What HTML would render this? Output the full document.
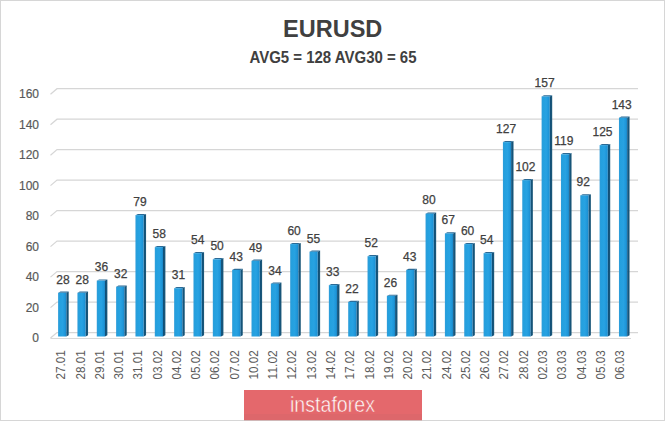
<!DOCTYPE html><html><head><meta charset="utf-8"><style>
html,body{margin:0;padding:0;background:#fff;}
#c{position:relative;width:665px;height:421px;overflow:hidden;background:#fff;}
svg{position:absolute;left:0;top:0;}
text{font-family:"Liberation Sans",sans-serif;}
</style></head><body><div id="c">
<svg width="665" height="421" viewBox="0 0 665 421">
<defs>
<linearGradient id="gf" x1="0" x2="1" y1="0" y2="0"><stop offset="0" stop-color="#2f9cd9"/><stop offset="0.2" stop-color="#24a0de"/><stop offset="0.55" stop-color="#28a2e2"/><stop offset="0.85" stop-color="#1e96d9"/><stop offset="1" stop-color="#1a84c2"/></linearGradient>
<linearGradient id="gs" x1="0" x2="1" y1="0" y2="0"><stop offset="0" stop-color="#0d4d78"/><stop offset="1" stop-color="#1e5a7a"/></linearGradient>
</defs>
<rect x="0.5" y="0.5" width="664" height="420" fill="#fff" stroke="#d6d6d6" stroke-width="1"/>
<path d="M50.5 338.0 L57 332.54 L638 332.54" fill="none" stroke="#d6d6d6" stroke-width="1.2"/>
<text x="39" y="342.0" font-size="12" fill="#595959" stroke="#595959" stroke-width="0.2" text-anchor="end">0</text>
<path d="M50.5 307.6 L57 302.06 L638 302.06" fill="none" stroke="#d6d6d6" stroke-width="1.2"/>
<text x="39" y="311.6" font-size="12" fill="#595959" stroke="#595959" stroke-width="0.2" text-anchor="end">20</text>
<path d="M50.5 277.1 L57 271.58 L638 271.58" fill="none" stroke="#d6d6d6" stroke-width="1.2"/>
<text x="39" y="281.1" font-size="12" fill="#595959" stroke="#595959" stroke-width="0.2" text-anchor="end">40</text>
<path d="M50.5 246.6 L57 241.10000000000002 L638 241.10000000000002" fill="none" stroke="#d6d6d6" stroke-width="1.2"/>
<text x="39" y="250.6" font-size="12" fill="#595959" stroke="#595959" stroke-width="0.2" text-anchor="end">60</text>
<path d="M50.5 216.1 L57 210.62 L638 210.62" fill="none" stroke="#d6d6d6" stroke-width="1.2"/>
<text x="39" y="220.1" font-size="12" fill="#595959" stroke="#595959" stroke-width="0.2" text-anchor="end">80</text>
<path d="M50.5 185.6 L57 180.14 L638 180.14" fill="none" stroke="#d6d6d6" stroke-width="1.2"/>
<text x="39" y="189.6" font-size="12" fill="#595959" stroke="#595959" stroke-width="0.2" text-anchor="end">100</text>
<path d="M50.5 155.2 L57 149.66 L638 149.66" fill="none" stroke="#d6d6d6" stroke-width="1.2"/>
<text x="39" y="159.2" font-size="12" fill="#595959" stroke="#595959" stroke-width="0.2" text-anchor="end">120</text>
<path d="M50.5 124.7 L57 119.18 L638 119.18" fill="none" stroke="#d6d6d6" stroke-width="1.2"/>
<text x="39" y="128.7" font-size="12" fill="#595959" stroke="#595959" stroke-width="0.2" text-anchor="end">140</text>
<path d="M50.5 94.2 L57 88.7 L638 88.7" fill="none" stroke="#d6d6d6" stroke-width="1.2"/>
<text x="39" y="98.2" font-size="12" fill="#595959" stroke="#595959" stroke-width="0.2" text-anchor="end">160</text>
<path d="M50.5 338.5 L631 338.5" fill="none" stroke="#d9d9d9" stroke-width="1"/>
<polygon points="66.30,292.78 68.70,291.58 68.70,335.30 66.30,336.50" fill="url(#gs)"/>
<polygon points="58.10,292.78 60.50,291.58 68.70,291.58 66.30,292.78" fill="#2a6a96"/>
<rect x="58.10" y="292.78" width="8.20" height="43.72" fill="url(#gf)"/>
<text x="62.9" y="283.6" font-size="12" fill="#404040" stroke="#404040" stroke-width="0.25" text-anchor="middle">28</text>
<text transform="translate(65.2,350.2) rotate(-90)" font-size="12" fill="#5a5a5a" text-anchor="end" textLength="29.2" lengthAdjust="spacingAndGlyphs">27.01</text>
<polygon points="85.64,292.78 88.04,291.58 88.04,335.30 85.64,336.50" fill="url(#gs)"/>
<polygon points="77.44,292.78 79.84,291.58 88.04,291.58 85.64,292.78" fill="#2a6a96"/>
<rect x="77.44" y="292.78" width="8.20" height="43.72" fill="url(#gf)"/>
<text x="82.2" y="283.6" font-size="12" fill="#404040" stroke="#404040" stroke-width="0.25" text-anchor="middle">28</text>
<text transform="translate(84.5,350.2) rotate(-90)" font-size="12" fill="#5a5a5a" text-anchor="end" textLength="29.2" lengthAdjust="spacingAndGlyphs">28.01</text>
<polygon points="104.98,280.61 107.38,279.41 107.38,335.30 104.98,336.50" fill="url(#gs)"/>
<polygon points="96.78,280.61 99.18,279.41 107.38,279.41 104.98,280.61" fill="#2a6a96"/>
<rect x="96.78" y="280.61" width="8.20" height="55.89" fill="url(#gf)"/>
<text x="101.4" y="271.4" font-size="12" fill="#404040" stroke="#404040" stroke-width="0.25" text-anchor="middle">36</text>
<text transform="translate(103.7,350.2) rotate(-90)" font-size="12" fill="#5a5a5a" text-anchor="end" textLength="29.2" lengthAdjust="spacingAndGlyphs">29.01</text>
<polygon points="124.32,286.70 126.72,285.50 126.72,335.30 124.32,336.50" fill="url(#gs)"/>
<polygon points="116.12,286.70 118.52,285.50 126.72,285.50 124.32,286.70" fill="#2a6a96"/>
<rect x="116.12" y="286.70" width="8.20" height="49.80" fill="url(#gf)"/>
<text x="120.7" y="277.5" font-size="12" fill="#404040" stroke="#404040" stroke-width="0.25" text-anchor="middle">32</text>
<text transform="translate(123.0,350.2) rotate(-90)" font-size="12" fill="#5a5a5a" text-anchor="end" textLength="29.2" lengthAdjust="spacingAndGlyphs">30.01</text>
<polygon points="143.66,215.16 146.06,213.96 146.06,335.30 143.66,336.50" fill="url(#gs)"/>
<polygon points="135.46,215.16 137.86,213.96 146.06,213.96 143.66,215.16" fill="#2a6a96"/>
<rect x="135.46" y="215.16" width="8.20" height="121.34" fill="url(#gf)"/>
<text x="140.0" y="206.0" font-size="12" fill="#404040" stroke="#404040" stroke-width="0.25" text-anchor="middle">79</text>
<text transform="translate(142.3,350.2) rotate(-90)" font-size="12" fill="#5a5a5a" text-anchor="end" textLength="29.2" lengthAdjust="spacingAndGlyphs">31.01</text>
<polygon points="163.00,247.12 165.40,245.92 165.40,335.30 163.00,336.50" fill="url(#gs)"/>
<polygon points="154.80,247.12 157.20,245.92 165.40,245.92 163.00,247.12" fill="#2a6a96"/>
<rect x="154.80" y="247.12" width="8.20" height="89.38" fill="url(#gf)"/>
<text x="159.2" y="237.9" font-size="12" fill="#404040" stroke="#404040" stroke-width="0.25" text-anchor="middle">58</text>
<text transform="translate(161.6,350.2) rotate(-90)" font-size="12" fill="#5a5a5a" text-anchor="end" textLength="29.2" lengthAdjust="spacingAndGlyphs">03.02</text>
<polygon points="182.34,288.22 184.74,287.02 184.74,335.30 182.34,336.50" fill="url(#gs)"/>
<polygon points="174.14,288.22 176.54,287.02 184.74,287.02 182.34,288.22" fill="#2a6a96"/>
<rect x="174.14" y="288.22" width="8.20" height="48.28" fill="url(#gf)"/>
<text x="178.5" y="279.0" font-size="12" fill="#404040" stroke="#404040" stroke-width="0.25" text-anchor="middle">31</text>
<text transform="translate(180.8,350.2) rotate(-90)" font-size="12" fill="#5a5a5a" text-anchor="end" textLength="29.2" lengthAdjust="spacingAndGlyphs">04.02</text>
<polygon points="201.68,253.21 204.08,252.01 204.08,335.30 201.68,336.50" fill="url(#gs)"/>
<polygon points="193.48,253.21 195.88,252.01 204.08,252.01 201.68,253.21" fill="#2a6a96"/>
<rect x="193.48" y="253.21" width="8.20" height="83.29" fill="url(#gf)"/>
<text x="197.8" y="244.0" font-size="12" fill="#404040" stroke="#404040" stroke-width="0.25" text-anchor="middle">54</text>
<text transform="translate(200.1,350.2) rotate(-90)" font-size="12" fill="#5a5a5a" text-anchor="end" textLength="29.2" lengthAdjust="spacingAndGlyphs">05.02</text>
<polygon points="221.02,259.30 223.42,258.10 223.42,335.30 221.02,336.50" fill="url(#gs)"/>
<polygon points="212.82,259.30 215.22,258.10 223.42,258.10 221.02,259.30" fill="#2a6a96"/>
<rect x="212.82" y="259.30" width="8.20" height="77.20" fill="url(#gf)"/>
<text x="217.1" y="250.1" font-size="12" fill="#404040" stroke="#404040" stroke-width="0.25" text-anchor="middle">50</text>
<text transform="translate(219.4,350.2) rotate(-90)" font-size="12" fill="#5a5a5a" text-anchor="end" textLength="29.2" lengthAdjust="spacingAndGlyphs">06.02</text>
<polygon points="240.36,269.95 242.76,268.75 242.76,335.30 240.36,336.50" fill="url(#gs)"/>
<polygon points="232.16,269.95 234.56,268.75 242.76,268.75 240.36,269.95" fill="#2a6a96"/>
<rect x="232.16" y="269.95" width="8.20" height="66.55" fill="url(#gf)"/>
<text x="236.3" y="260.8" font-size="12" fill="#404040" stroke="#404040" stroke-width="0.25" text-anchor="middle">43</text>
<text transform="translate(238.6,350.2) rotate(-90)" font-size="12" fill="#5a5a5a" text-anchor="end" textLength="29.2" lengthAdjust="spacingAndGlyphs">07.02</text>
<polygon points="259.70,260.82 262.10,259.62 262.10,335.30 259.70,336.50" fill="url(#gs)"/>
<polygon points="251.50,260.82 253.90,259.62 262.10,259.62 259.70,260.82" fill="#2a6a96"/>
<rect x="251.50" y="260.82" width="8.20" height="75.68" fill="url(#gf)"/>
<text x="255.6" y="251.6" font-size="12" fill="#404040" stroke="#404040" stroke-width="0.25" text-anchor="middle">49</text>
<text transform="translate(257.9,350.2) rotate(-90)" font-size="12" fill="#5a5a5a" text-anchor="end" textLength="29.2" lengthAdjust="spacingAndGlyphs">10.02</text>
<polygon points="279.04,283.65 281.44,282.45 281.44,335.30 279.04,336.50" fill="url(#gs)"/>
<polygon points="270.84,283.65 273.24,282.45 281.44,282.45 279.04,283.65" fill="#2a6a96"/>
<rect x="270.84" y="283.65" width="8.20" height="52.85" fill="url(#gf)"/>
<text x="274.9" y="274.5" font-size="12" fill="#404040" stroke="#404040" stroke-width="0.25" text-anchor="middle">34</text>
<text transform="translate(277.2,350.2) rotate(-90)" font-size="12" fill="#5a5a5a" text-anchor="end" textLength="29.2" lengthAdjust="spacingAndGlyphs">11.02</text>
<polygon points="298.38,244.08 300.78,242.88 300.78,335.30 298.38,336.50" fill="url(#gs)"/>
<polygon points="290.18,244.08 292.58,242.88 300.78,242.88 298.38,244.08" fill="#2a6a96"/>
<rect x="290.18" y="244.08" width="8.20" height="92.42" fill="url(#gf)"/>
<text x="294.1" y="234.9" font-size="12" fill="#404040" stroke="#404040" stroke-width="0.25" text-anchor="middle">60</text>
<text transform="translate(296.4,350.2) rotate(-90)" font-size="12" fill="#5a5a5a" text-anchor="end" textLength="29.2" lengthAdjust="spacingAndGlyphs">12.02</text>
<polygon points="317.72,251.69 320.12,250.49 320.12,335.30 317.72,336.50" fill="url(#gs)"/>
<polygon points="309.52,251.69 311.92,250.49 320.12,250.49 317.72,251.69" fill="#2a6a96"/>
<rect x="309.52" y="251.69" width="8.20" height="84.81" fill="url(#gf)"/>
<text x="313.4" y="242.5" font-size="12" fill="#404040" stroke="#404040" stroke-width="0.25" text-anchor="middle">55</text>
<text transform="translate(315.7,350.2) rotate(-90)" font-size="12" fill="#5a5a5a" text-anchor="end" textLength="29.2" lengthAdjust="spacingAndGlyphs">13.02</text>
<polygon points="337.06,285.17 339.46,283.97 339.46,335.30 337.06,336.50" fill="url(#gs)"/>
<polygon points="328.86,285.17 331.26,283.97 339.46,283.97 337.06,285.17" fill="#2a6a96"/>
<rect x="328.86" y="285.17" width="8.20" height="51.33" fill="url(#gf)"/>
<text x="332.7" y="276.0" font-size="12" fill="#404040" stroke="#404040" stroke-width="0.25" text-anchor="middle">33</text>
<text transform="translate(335.0,350.2) rotate(-90)" font-size="12" fill="#5a5a5a" text-anchor="end" textLength="29.2" lengthAdjust="spacingAndGlyphs">14.02</text>
<polygon points="356.40,301.92 358.80,300.72 358.80,335.30 356.40,336.50" fill="url(#gs)"/>
<polygon points="348.20,301.92 350.60,300.72 358.80,300.72 356.40,301.92" fill="#2a6a96"/>
<rect x="348.20" y="301.92" width="8.20" height="34.58" fill="url(#gf)"/>
<text x="351.9" y="292.7" font-size="12" fill="#404040" stroke="#404040" stroke-width="0.25" text-anchor="middle">22</text>
<text transform="translate(354.2,350.2) rotate(-90)" font-size="12" fill="#5a5a5a" text-anchor="end" textLength="29.2" lengthAdjust="spacingAndGlyphs">17.02</text>
<polygon points="375.74,256.26 378.14,255.06 378.14,335.30 375.74,336.50" fill="url(#gs)"/>
<polygon points="367.54,256.26 369.94,255.06 378.14,255.06 375.74,256.26" fill="#2a6a96"/>
<rect x="367.54" y="256.26" width="8.20" height="80.24" fill="url(#gf)"/>
<text x="371.2" y="247.1" font-size="12" fill="#404040" stroke="#404040" stroke-width="0.25" text-anchor="middle">52</text>
<text transform="translate(373.5,350.2) rotate(-90)" font-size="12" fill="#5a5a5a" text-anchor="end" textLength="29.2" lengthAdjust="spacingAndGlyphs">18.02</text>
<polygon points="395.08,295.83 397.48,294.63 397.48,335.30 395.08,336.50" fill="url(#gs)"/>
<polygon points="386.88,295.83 389.28,294.63 397.48,294.63 395.08,295.83" fill="#2a6a96"/>
<rect x="386.88" y="295.83" width="8.20" height="40.67" fill="url(#gf)"/>
<text x="390.5" y="286.6" font-size="12" fill="#404040" stroke="#404040" stroke-width="0.25" text-anchor="middle">26</text>
<text transform="translate(392.8,350.2) rotate(-90)" font-size="12" fill="#5a5a5a" text-anchor="end" textLength="29.2" lengthAdjust="spacingAndGlyphs">19.02</text>
<polygon points="414.42,269.95 416.82,268.75 416.82,335.30 414.42,336.50" fill="url(#gs)"/>
<polygon points="406.22,269.95 408.62,268.75 416.82,268.75 414.42,269.95" fill="#2a6a96"/>
<rect x="406.22" y="269.95" width="8.20" height="66.55" fill="url(#gf)"/>
<text x="409.8" y="260.8" font-size="12" fill="#404040" stroke="#404040" stroke-width="0.25" text-anchor="middle">43</text>
<text transform="translate(412.1,350.2) rotate(-90)" font-size="12" fill="#5a5a5a" text-anchor="end" textLength="29.2" lengthAdjust="spacingAndGlyphs">20.02</text>
<polygon points="433.76,213.64 436.16,212.44 436.16,335.30 433.76,336.50" fill="url(#gs)"/>
<polygon points="425.56,213.64 427.96,212.44 436.16,212.44 433.76,213.64" fill="#2a6a96"/>
<rect x="425.56" y="213.64" width="8.20" height="122.86" fill="url(#gf)"/>
<text x="429.0" y="204.4" font-size="12" fill="#404040" stroke="#404040" stroke-width="0.25" text-anchor="middle">80</text>
<text transform="translate(431.3,350.2) rotate(-90)" font-size="12" fill="#5a5a5a" text-anchor="end" textLength="29.2" lengthAdjust="spacingAndGlyphs">21.02</text>
<polygon points="453.10,233.43 455.50,232.23 455.50,335.30 453.10,336.50" fill="url(#gs)"/>
<polygon points="444.90,233.43 447.30,232.23 455.50,232.23 453.10,233.43" fill="#2a6a96"/>
<rect x="444.90" y="233.43" width="8.20" height="103.07" fill="url(#gf)"/>
<text x="448.3" y="224.2" font-size="12" fill="#404040" stroke="#404040" stroke-width="0.25" text-anchor="middle">67</text>
<text transform="translate(450.6,350.2) rotate(-90)" font-size="12" fill="#5a5a5a" text-anchor="end" textLength="29.2" lengthAdjust="spacingAndGlyphs">24.02</text>
<polygon points="472.44,244.08 474.84,242.88 474.84,335.30 472.44,336.50" fill="url(#gs)"/>
<polygon points="464.24,244.08 466.64,242.88 474.84,242.88 472.44,244.08" fill="#2a6a96"/>
<rect x="464.24" y="244.08" width="8.20" height="92.42" fill="url(#gf)"/>
<text x="467.6" y="234.9" font-size="12" fill="#404040" stroke="#404040" stroke-width="0.25" text-anchor="middle">60</text>
<text transform="translate(469.9,350.2) rotate(-90)" font-size="12" fill="#5a5a5a" text-anchor="end" textLength="29.2" lengthAdjust="spacingAndGlyphs">25.02</text>
<polygon points="491.78,253.21 494.18,252.01 494.18,335.30 491.78,336.50" fill="url(#gs)"/>
<polygon points="483.58,253.21 485.98,252.01 494.18,252.01 491.78,253.21" fill="#2a6a96"/>
<rect x="483.58" y="253.21" width="8.20" height="83.29" fill="url(#gf)"/>
<text x="486.8" y="244.0" font-size="12" fill="#404040" stroke="#404040" stroke-width="0.25" text-anchor="middle">54</text>
<text transform="translate(489.1,350.2) rotate(-90)" font-size="12" fill="#5a5a5a" text-anchor="end" textLength="29.2" lengthAdjust="spacingAndGlyphs">26.02</text>
<polygon points="511.12,142.11 513.52,140.91 513.52,335.30 511.12,336.50" fill="url(#gs)"/>
<polygon points="502.92,142.11 505.32,140.91 513.52,140.91 511.12,142.11" fill="#2a6a96"/>
<rect x="502.92" y="142.11" width="8.20" height="194.39" fill="url(#gf)"/>
<text x="506.1" y="132.9" font-size="12" fill="#404040" stroke="#404040" stroke-width="0.25" text-anchor="middle">127</text>
<text transform="translate(508.4,350.2) rotate(-90)" font-size="12" fill="#5a5a5a" text-anchor="end" textLength="29.2" lengthAdjust="spacingAndGlyphs">27.02</text>
<polygon points="530.46,180.16 532.86,178.96 532.86,335.30 530.46,336.50" fill="url(#gs)"/>
<polygon points="522.26,180.16 524.66,178.96 532.86,178.96 530.46,180.16" fill="#2a6a96"/>
<rect x="522.26" y="180.16" width="8.20" height="156.34" fill="url(#gf)"/>
<text x="525.4" y="171.0" font-size="12" fill="#404040" stroke="#404040" stroke-width="0.25" text-anchor="middle">102</text>
<text transform="translate(527.7,350.2) rotate(-90)" font-size="12" fill="#5a5a5a" text-anchor="end" textLength="29.2" lengthAdjust="spacingAndGlyphs">28.02</text>
<polygon points="549.80,96.45 552.20,95.25 552.20,335.30 549.80,336.50" fill="url(#gs)"/>
<polygon points="541.60,96.45 544.00,95.25 552.20,95.25 549.80,96.45" fill="#2a6a96"/>
<rect x="541.60" y="96.45" width="8.20" height="240.05" fill="url(#gf)"/>
<text x="544.6" y="87.2" font-size="12" fill="#404040" stroke="#404040" stroke-width="0.25" text-anchor="middle">157</text>
<text transform="translate(547.0,350.2) rotate(-90)" font-size="12" fill="#5a5a5a" text-anchor="end" textLength="29.2" lengthAdjust="spacingAndGlyphs">02.03</text>
<polygon points="569.14,154.28 571.54,153.08 571.54,335.30 569.14,336.50" fill="url(#gs)"/>
<polygon points="560.94,154.28 563.34,153.08 571.54,153.08 569.14,154.28" fill="#2a6a96"/>
<rect x="560.94" y="154.28" width="8.20" height="182.22" fill="url(#gf)"/>
<text x="563.9" y="145.1" font-size="12" fill="#404040" stroke="#404040" stroke-width="0.25" text-anchor="middle">119</text>
<text transform="translate(566.2,350.2) rotate(-90)" font-size="12" fill="#5a5a5a" text-anchor="end" textLength="29.2" lengthAdjust="spacingAndGlyphs">03.03</text>
<polygon points="588.48,195.38 590.88,194.18 590.88,335.30 588.48,336.50" fill="url(#gs)"/>
<polygon points="580.28,195.38 582.68,194.18 590.88,194.18 588.48,195.38" fill="#2a6a96"/>
<rect x="580.28" y="195.38" width="8.20" height="141.12" fill="url(#gf)"/>
<text x="583.2" y="186.2" font-size="12" fill="#404040" stroke="#404040" stroke-width="0.25" text-anchor="middle">92</text>
<text transform="translate(585.5,350.2) rotate(-90)" font-size="12" fill="#5a5a5a" text-anchor="end" textLength="29.2" lengthAdjust="spacingAndGlyphs">04.03</text>
<polygon points="607.82,145.15 610.22,143.95 610.22,335.30 607.82,336.50" fill="url(#gs)"/>
<polygon points="599.62,145.15 602.02,143.95 610.22,143.95 607.82,145.15" fill="#2a6a96"/>
<rect x="599.62" y="145.15" width="8.20" height="191.35" fill="url(#gf)"/>
<text x="602.5" y="135.9" font-size="12" fill="#404040" stroke="#404040" stroke-width="0.25" text-anchor="middle">125</text>
<text transform="translate(604.8,350.2) rotate(-90)" font-size="12" fill="#5a5a5a" text-anchor="end" textLength="29.2" lengthAdjust="spacingAndGlyphs">05.03</text>
<polygon points="627.16,117.75 629.56,116.55 629.56,335.30 627.16,336.50" fill="url(#gs)"/>
<polygon points="618.96,117.75 621.36,116.55 629.56,116.55 627.16,117.75" fill="#2a6a96"/>
<rect x="618.96" y="117.75" width="8.20" height="218.75" fill="url(#gf)"/>
<text x="621.7" y="108.6" font-size="12" fill="#404040" stroke="#404040" stroke-width="0.25" text-anchor="middle">143</text>
<text transform="translate(624.0,350.2) rotate(-90)" font-size="12" fill="#5a5a5a" text-anchor="end" textLength="29.2" lengthAdjust="spacingAndGlyphs">06.03</text>
<text x="332.7" y="37" font-size="23.5" font-weight="bold" fill="#404040" text-anchor="middle">EURUSD</text>
<text x="249.5" y="63" font-size="15.6" font-weight="bold" fill="#404040" textLength="167" lengthAdjust="spacingAndGlyphs">AVG5 = 128 AVG30 = 65</text>
<rect x="244" y="390" width="178" height="30" fill="#e4686c"/>
<rect x="244" y="414" width="178" height="6" fill="#d9676a" opacity="0.6"/>
<text x="290" y="411.5" font-size="21.5" fill="#ffffff" stroke="#e4686c" stroke-width="0.5" textLength="85" lengthAdjust="spacingAndGlyphs">instaforex</text>
<rect x="244" y="420" width="178" height="1" fill="#d0b8b8"/>
</svg></div></body></html>
